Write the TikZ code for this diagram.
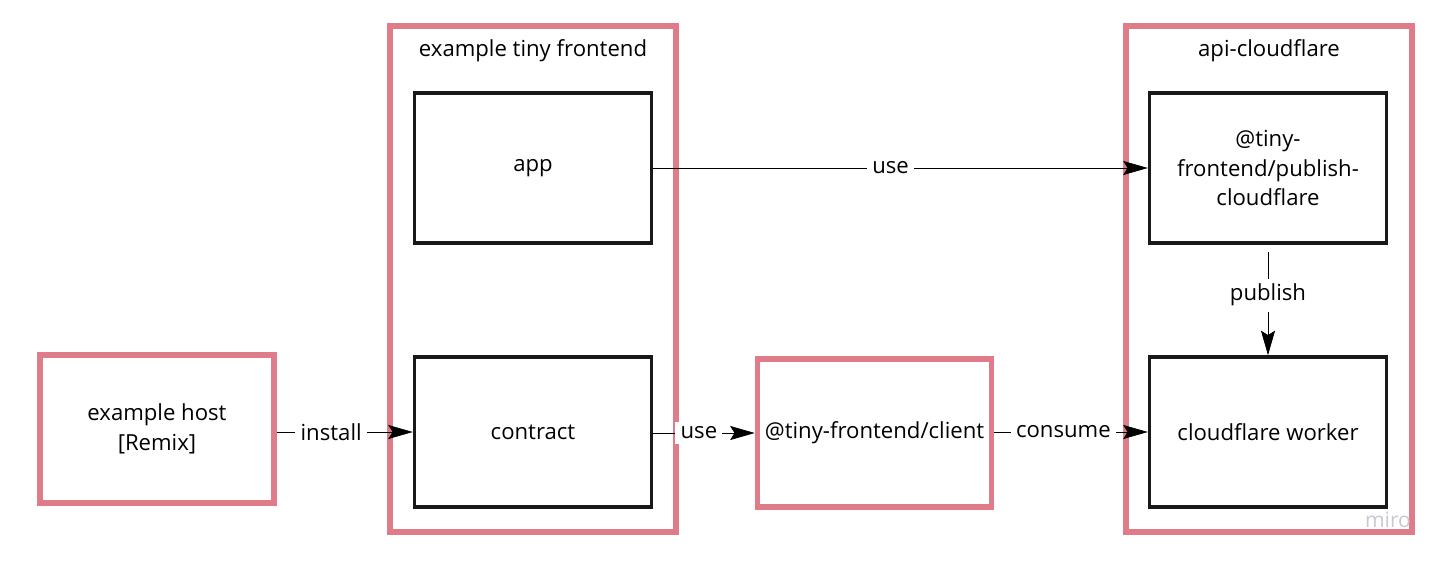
\documentclass[tikz,border=0pt]{standalone}
\usepackage{fontspec}
\setmainfont{Open Sans}
\usetikzlibrary{arrows.meta,positioning}

\definecolor{miropink}{RGB}{224,123,138}
\definecolor{wmgray}{RGB}{200,200,212}

\tikzset{
  pinkbox/.style={draw=miropink,line width=3.2pt,minimum width=4.68cm,minimum height=2.96cm,align=center},
  blackbox/.style={draw=black!90,line width=2pt,minimum width=4.74cm,minimum height=3cm,align=center},
  groupbox/.style={draw=miropink,line width=3.2pt,minimum width=5.72cm,minimum height=10.12cm},
  conn/.style={-{Stealth[length=14pt,width=8pt,inset=2.5pt]},thin},
  lbl/.style={fill=white,inner sep=3pt}
}

\begin{document}
\begin{tikzpicture}[x=0.02cm,y=-0.02cm,font=\fontsize{12.6pt}{17pt}\selectfont]

\useasboundingbox (0,0) rectangle (1443,561);

% groups
\node[groupbox] (tinyfe) at (533,279){};
\node at (533,51){example tiny frontend};
\node[groupbox] (apicf) at (1269,279){};
\node at (1269,51){api-cloudflare};

% boxes
\node[pinkbox] (host) at (157,429){example host\\{[Remix]}};
\node[blackbox] (app) at (533,168){app};
\node[blackbox] (contract) at (533,432){contract};
\node[pinkbox] (client) at (874.5,433){@tiny-frontend/client};
\node[blackbox] (publishcf) at (1268,168){@tiny-\\frontend/publish-\\cloudflare};
\node[blackbox] (worker) at (1268,432){cloudflare worker};

% connectors
\draw[conn] (host.east|-contract) -- (contract.west) node[lbl,pos=0.4]{install};
\draw[conn] (contract.east|-client) -- (client.west) node[lbl,pos=0.45]{use};
\draw[conn] (client.east|-worker) -- (worker.west) node[lbl,pos=0.45]{consume};
\draw[conn] (app.east) -- (publishcf.west) node[lbl,pos=0.48]{use};
\draw[conn] ([yshift=-4pt]publishcf.south) -- (worker.north) node[lbl,pos=0.42]{publish};

% watermark
\node[text=wmgray,font=\fontsize{12pt}{14pt}\selectfont] (wm) at (1388,520){miro};

\end{tikzpicture}
\end{document}
